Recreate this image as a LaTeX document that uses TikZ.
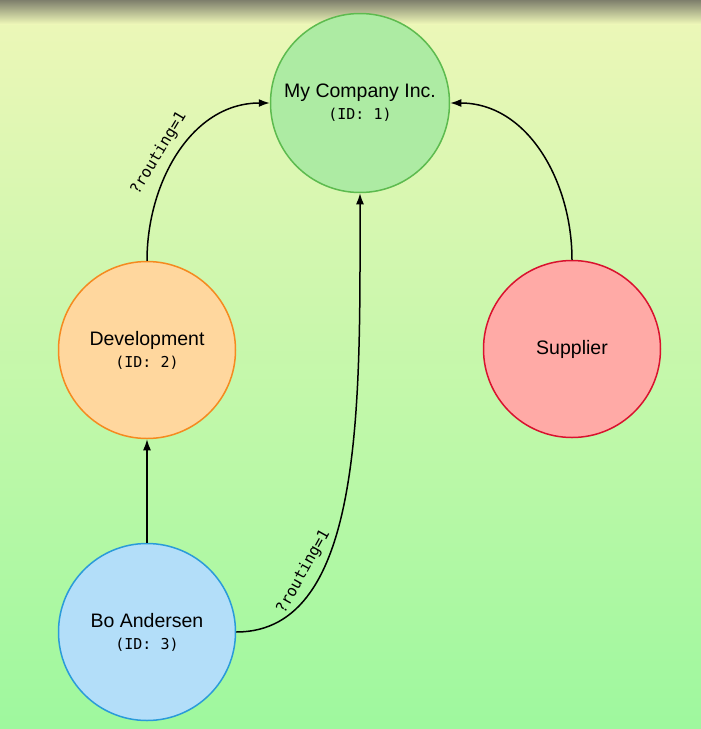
\documentclass[tikz,border=0pt]{standalone}
\usepackage{fontspec}
\setmainfont{Liberation Sans}
\setmonofont{DejaVu Sans Mono}
\usetikzlibrary{arrows.meta,positioning}
\definecolor{bgtop}{HTML}{EEF7B8}
\definecolor{bgmid}{HTML}{C8F5AA}
\definecolor{bgbot}{HTML}{9EF89E}
\definecolor{bgshadow}{HTML}{7E7F6C}
\newcommand{\nodeid}[1]{\\[0pt]{\ttfamily\fontsize{15}{18}\selectfont (ID: #1)}}
\tikzset{
  every picture/.style = {
    x = 1pt,
    y = 1pt,
    >={Latex[length=11pt,width=8pt]},
  }
  ,
  entity/.style = {
    circle,
    line width = 1.5pt,
    minimum size = 177pt,
    inner sep = 0pt,
    align = center,
    font = \fontsize{19.5}{22}\selectfont
  }
  ,
  link/.style = {
    ->,
    line width = 1.5pt
  }
  ,
  % labels of edges
  label-edge/.style = {
    sloped,
    above = 5pt,
    font = \ttfamily\fontsize{15.5}{18}\selectfont
  }
}
\begin{document}
\begin{tikzpicture}
\useasboundingbox (0,0) rectangle (701,-729);
\shade[top color=bgtop, middle color=bgmid, bottom color=bgbot] (0,0) rectangle (701,-729);
\shade[top color=bgshadow, bottom color=bgtop] (0,0) rectangle (701,-24);

\node [entity, draw={rgb,255:red,93;green,187;blue,79}, fill={rgb,255:red,173;green,235;blue,163}, minimum size=179pt] (myco) at (360,-103) {My Company Inc.\nodeid{1}};
\node [entity, draw={rgb,255:red,245;green,138;blue,31}, fill={rgb,255:red,255;green,215;blue,158}] (dev) at (147,-350) {Development\nodeid{2}};
\node [entity, draw={rgb,255:red,217;green,18;blue,46}, fill={rgb,255:red,255;green,170;blue,166}] (supp) at (572,-349) {Supplier};
\node [entity, draw={rgb,255:red,42;green,155;blue,217}, fill={rgb,255:red,179;green,222;blue,249}] (bo) at (147,-632) {Bo Andersen\nodeid{3}};

\draw [link] (dev.north) to[out=90, in=180] node [label-edge, pos=0.45] {?routing=1} (myco.west);
\draw [link] (supp.north) to[out=90, in=0] (myco.east);
\draw [link] (bo.north) -- (dev.south);
\draw [link] (bo.east) to[out=0, in=-90, out distance=129pt, in distance=207pt] node [label-edge, pos=0.29] {?routing=1} (myco.south);
\end{tikzpicture}
\end{document}
